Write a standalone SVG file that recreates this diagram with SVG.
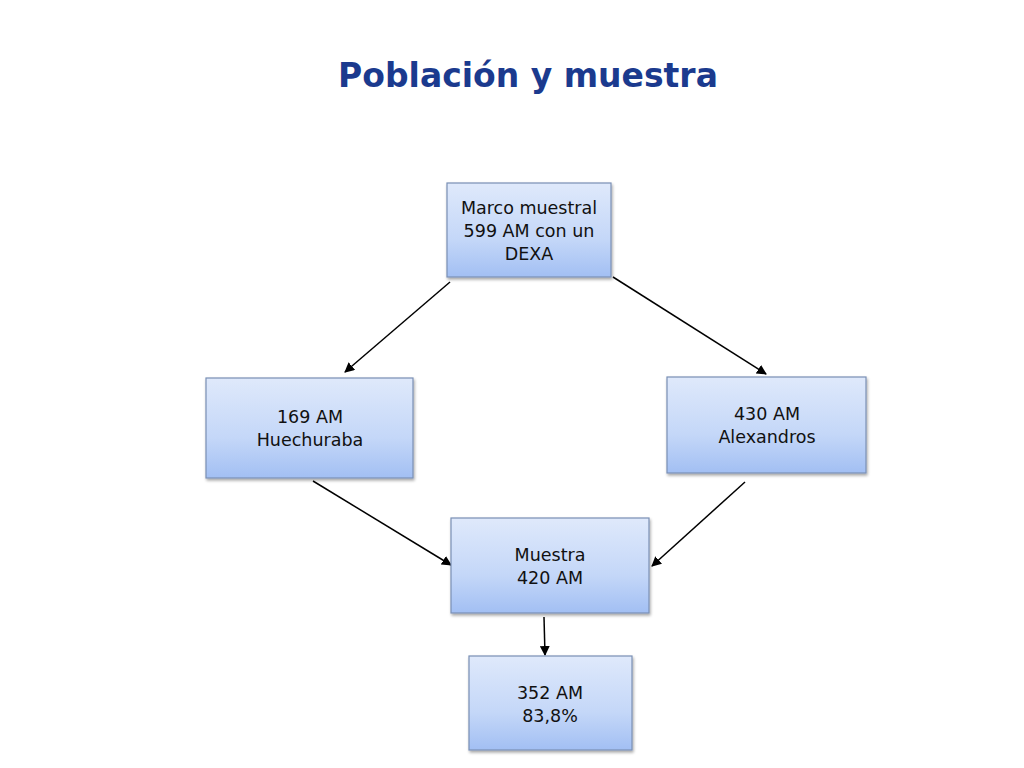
<svg xmlns="http://www.w3.org/2000/svg" width="1024" height="768" viewBox="0 0 1024 768">
<defs>
<linearGradient id="g" x1="0" y1="0" x2="0" y2="1">
<stop offset="0" stop-color="#dfe9fb"/>
<stop offset="0.6" stop-color="#c4d7f8"/>
<stop offset="1" stop-color="#a2bff3"/>
</linearGradient>
<filter id="sh" x="-10%" y="-10%" width="125%" height="130%">
<feGaussianBlur in="SourceAlpha" stdDeviation="1.5"/>
<feOffset dx="1" dy="2" result="b"/>
<feComponentTransfer><feFuncA type="linear" slope="0.35"/></feComponentTransfer>
<feMerge><feMergeNode/><feMergeNode in="SourceGraphic"/></feMerge>
</filter>
<marker id="ah" viewBox="0 0 10 10" refX="9" refY="5" markerWidth="10" markerHeight="10" markerUnits="userSpaceOnUse" orient="auto">
<path d="M0,0 L10,5 L0,10 z" fill="#000"/>
</marker>
</defs>
<style>
.box{fill:url(#g);stroke:#7a8fb5;stroke-width:1.2;filter:url(#sh)}
.t{font-family:"DejaVu Sans","Open Sans",sans-serif;font-size:17.5px;fill:#111;text-anchor:middle}
.c{stroke:#000;stroke-width:1.5;fill:none;marker-end:url(#ah)}
.title{font-family:"DejaVu Sans","Open Sans",sans-serif;font-size:33px;font-weight:bold;fill:#1b3a8e;text-anchor:middle}
</style>
<rect width="1024" height="768" fill="#fff"/>
<text class="title" x="528" y="87">Población y muestra</text>
<g id="connectors">
<line class="c" x1="450" y1="282" x2="345" y2="372"/>
<line class="c" x1="613" y1="277" x2="766" y2="374"/>
<line class="c" x1="313" y1="481" x2="451" y2="565"/>
<line class="c" x1="745" y1="482" x2="652" y2="566"/>
<line class="c" x1="544" y1="617" x2="545" y2="655"/>
</g>
<g id="marco">
<rect class="box" x="447" y="183" width="164" height="94"/>
<text class="t" x="529" y="214">Marco muestral</text>
<text class="t" x="529" y="237">599 AM con un</text>
<text class="t" x="529" y="260">DEXA</text>
</g>
<g id="huechuraba">
<rect class="box" x="206" y="378" width="207" height="100"/>
<text class="t" x="310" y="423">169 AM</text>
<text class="t" x="310" y="446">Huechuraba</text>
</g>
<g id="alexandros">
<rect class="box" x="667" y="377" width="199" height="96"/>
<text class="t" x="767" y="420">430 AM</text>
<text class="t" x="767" y="443">Alexandros</text>
</g>
<g id="muestra">
<rect class="box" x="451" y="518" width="198" height="95"/>
<text class="t" x="550" y="561">Muestra</text>
<text class="t" x="550" y="584">420 AM</text>
</g>
<g id="resultado">
<rect class="box" x="469" y="656" width="163" height="94"/>
<text class="t" x="550" y="699">352 AM</text>
<text class="t" x="550" y="722">83,8%</text>
</g>
</svg>
